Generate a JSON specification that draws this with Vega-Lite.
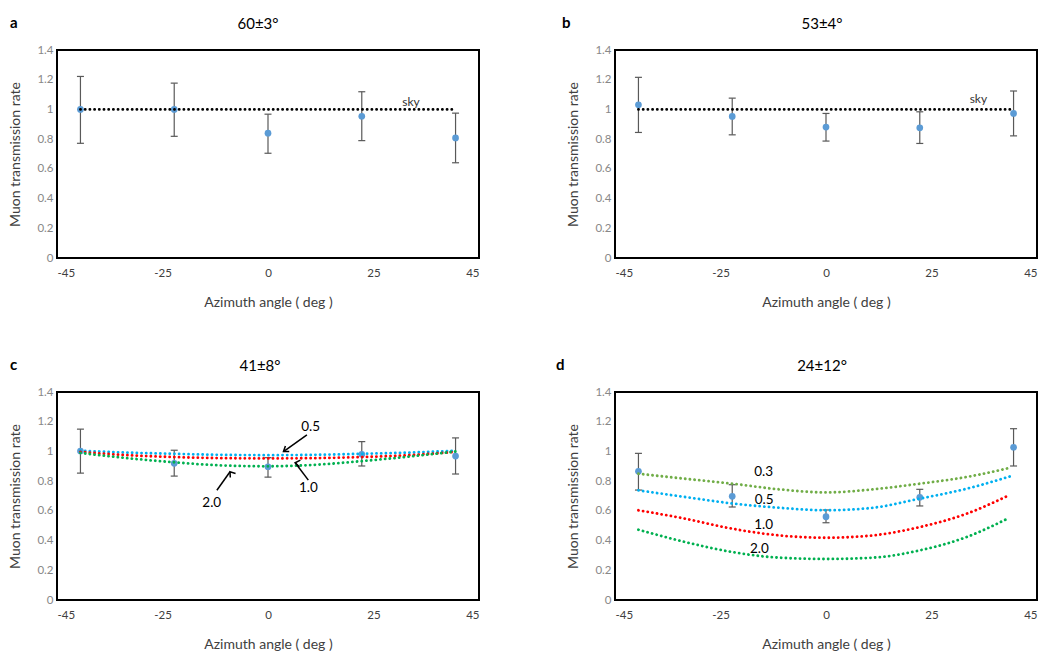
{
  "$schema": "https://vega.github.io/schema/vega-lite/v6.json",
  "background": "white",
  "padding": {"left": 7, "top": 16, "right": 0, "bottom": 0},
  "config": {
    "font": "Lato",
    "view": {"stroke": "#000000", "strokeWidth": 2},
    "axis": {"grid": false, "domain": false, "ticks": false, "labelFont": "Lato", "titleFont": "Lato", "titleFontWeight": "normal", "titleFontSize": 14, "titleColor": "#404040"},
    "axisX": {"labelFontSize": 11.5, "labelColor": "#404040", "labelPadding": 9, "titlePadding": 17},
    "axisY": {"labelFontSize": 11.5, "labelColor": "#888888", "labelPadding": 4, "titlePadding": 14},
    "title": {"font": "Lato", "color": "#000000"}
  },
  "datasets": {
    "ptsA": [
      {"x": -40, "y": 1.0, "lo": 0.772, "hi": 1.222},
      {"x": -20, "y": 1.0, "lo": 0.819, "hi": 1.177},
      {"x": 0, "y": 0.84, "lo": 0.705, "hi": 0.968},
      {"x": 20, "y": 0.954, "lo": 0.79, "hi": 1.119},
      {"x": 40, "y": 0.808, "lo": 0.641, "hi": 0.975}
    ],
    "ptsB": [
      {"x": -40, "y": 1.031, "lo": 0.845, "hi": 1.216},
      {"x": -20, "y": 0.953, "lo": 0.829, "hi": 1.076},
      {"x": 0, "y": 0.881, "lo": 0.787, "hi": 0.973},
      {"x": 20, "y": 0.876, "lo": 0.771, "hi": 0.984},
      {"x": 40, "y": 0.973, "lo": 0.822, "hi": 1.124}
    ],
    "ptsC": [
      {"x": -40, "y": 1.003, "lo": 0.854, "hi": 1.15},
      {"x": -20, "y": 0.92, "lo": 0.834, "hi": 1.008},
      {"x": 0, "y": 0.897, "lo": 0.827, "hi": 0.958},
      {"x": 20, "y": 0.981, "lo": 0.902, "hi": 1.066},
      {"x": 40, "y": 0.969, "lo": 0.848, "hi": 1.091}
    ],
    "ptsD": [
      {"x": -40, "y": 0.866, "lo": 0.74, "hi": 0.987},
      {"x": -20, "y": 0.698, "lo": 0.626, "hi": 0.776},
      {"x": 0, "y": 0.561, "lo": 0.52, "hi": 0.606},
      {"x": 20, "y": 0.691, "lo": 0.633, "hi": 0.745},
      {"x": 40, "y": 1.028, "lo": 0.902, "hi": 1.153}
    ],
    "sky": [
      {"x": -40, "y": 1.0},
      {"x": 40, "y": 1.0}
    ],
    "skyLabelA": [{"x": 30.5, "y": 1.047, "label": "sky"}],
    "skyLabelB": [{"x": 32.5, "y": 1.067, "label": "sky"}],
    "curvesC": [
      {"series": "0.5", "x": -40, "y": 1.005}, {"series": "0.5", "x": -30, "y": 0.992}, {"series": "0.5", "x": -20, "y": 0.984}, {"series": "0.5", "x": -10, "y": 0.977}, {"series": "0.5", "x": 0, "y": 0.975}, {"series": "0.5", "x": 10, "y": 0.977}, {"series": "0.5", "x": 20, "y": 0.984}, {"series": "0.5", "x": 30, "y": 0.992}, {"series": "0.5", "x": 40, "y": 1.005},
      {"series": "1.0", "x": -40, "y": 0.997}, {"series": "1.0", "x": -30, "y": 0.975}, {"series": "1.0", "x": -20, "y": 0.962}, {"series": "1.0", "x": -10, "y": 0.955}, {"series": "1.0", "x": 0, "y": 0.953}, {"series": "1.0", "x": 10, "y": 0.955}, {"series": "1.0", "x": 20, "y": 0.962}, {"series": "1.0", "x": 30, "y": 0.975}, {"series": "1.0", "x": 40, "y": 0.997},
      {"series": "2.0", "x": -40, "y": 0.99}, {"series": "2.0", "x": -30, "y": 0.955}, {"series": "2.0", "x": -20, "y": 0.927}, {"series": "2.0", "x": -10, "y": 0.906}, {"series": "2.0", "x": 0, "y": 0.9}, {"series": "2.0", "x": 10, "y": 0.91}, {"series": "2.0", "x": 20, "y": 0.935}, {"series": "2.0", "x": 30, "y": 0.965}, {"series": "2.0", "x": 40, "y": 1.0}
    ],
    "curvesD": [
      {"series": "0.3", "x": -40, "y": 0.85}, {"series": "0.3", "x": -30, "y": 0.816}, {"series": "0.3", "x": -20, "y": 0.783}, {"series": "0.3", "x": -10, "y": 0.745}, {"series": "0.3", "x": 0, "y": 0.724}, {"series": "0.3", "x": 10, "y": 0.745}, {"series": "0.3", "x": 20, "y": 0.783}, {"series": "0.3", "x": 30, "y": 0.828}, {"series": "0.3", "x": 39, "y": 0.888},
      {"series": "0.5", "x": -40, "y": 0.738}, {"series": "0.5", "x": -30, "y": 0.693}, {"series": "0.5", "x": -20, "y": 0.65}, {"series": "0.5", "x": -10, "y": 0.621}, {"series": "0.5", "x": 0, "y": 0.604}, {"series": "0.5", "x": 10, "y": 0.621}, {"series": "0.5", "x": 20, "y": 0.682}, {"series": "0.5", "x": 30, "y": 0.749}, {"series": "0.5", "x": 40, "y": 0.839},
      {"series": "1.0", "x": -40, "y": 0.604}, {"series": "1.0", "x": -30, "y": 0.547}, {"series": "1.0", "x": -20, "y": 0.48}, {"series": "1.0", "x": -10, "y": 0.435}, {"series": "1.0", "x": 0, "y": 0.419}, {"series": "1.0", "x": 10, "y": 0.435}, {"series": "1.0", "x": 20, "y": 0.491}, {"series": "1.0", "x": 30, "y": 0.581}, {"series": "1.0", "x": 39, "y": 0.705},
      {"series": "2.0", "x": -40, "y": 0.473}, {"series": "2.0", "x": -30, "y": 0.39}, {"series": "2.0", "x": -20, "y": 0.323}, {"series": "2.0", "x": -10, "y": 0.285}, {"series": "2.0", "x": 0, "y": 0.276}, {"series": "2.0", "x": 10, "y": 0.285}, {"series": "2.0", "x": 20, "y": 0.334}, {"series": "2.0", "x": 30, "y": 0.424}, {"series": "2.0", "x": 39, "y": 0.552}
    ],
    "labelsC": [
      {"label": "0.5", "x": 9.1, "y": 1.163},
      {"label": "1.0", "x": 8.6, "y": 0.757},
      {"label": "2.0", "x": -12.0, "y": 0.654}
    ],
    "arrowsC": [
      {"label": "0.5", "x": 3.3, "y": 0.999, "tx": 8.3, "ty": 1.111},
      {"label": "1.0", "x": 5.8, "y": 0.924, "tx": 8.6, "ty": 0.807},
      {"label": "2.0", "x": -8.1, "y": 0.863, "tx": -10.9, "ty": 0.739}
    ],
    "labelsD": [
      {"label": "0.3", "x": -13.3, "y": 0.862},
      {"label": "0.5", "x": -13.2, "y": 0.675},
      {"label": "1.0", "x": -13.3, "y": 0.505},
      {"label": "2.0", "x": -14.2, "y": 0.34}
    ]
  },
  "columns": 2,
  "spacing": {"column": 75, "row": 47},
  "concat": [
    {
      "title": {"text": "a", "anchor": "start", "fontSize": 15, "fontWeight": "bold", "offset": 0, "dy": 15, "dx": 2},
      "vconcat": [
        {
          "width": 422, "height": 208,
          "title": {"text": "60±3°", "fontSize": 15, "fontWeight": "normal", "anchor": "middle", "frame": "group", "offset": 12, "dx": -10},
          "encoding": {
            "x": {"field": "x", "type": "quantitative", "scale": {"domain": [-45, 45], "nice": false, "zero": false}, "axis": {"values": [-45, -22.5, 0, 22.5, 45], "labelExpr": "datum.value == -45 ? '-45' : datum.value == -22.5 ? '-25' : datum.value == 0 ? '0' : datum.value == 22.5 ? '25' : '45'", "title": "Azimuth angle ( deg )"}},
            "y": {"field": "y", "type": "quantitative", "scale": {"domain": [0, 1.4], "nice": false}, "axis": {"values": [0, 0.2, 0.4, 0.6, 0.8, 1, 1.2, 1.4], "format": "~g", "title": "Muon transmission rate"}}
          },
          "layer": [
            {"data": {"name": "ptsA"}, "mark": {"type": "rule", "color": "#595959", "strokeWidth": 1.2}, "encoding": {"y": {"field": "lo", "type": "quantitative", "title": "Muon transmission rate"}, "y2": {"field": "hi"}}},
            {"data": {"name": "ptsA"}, "mark": {"type": "tick", "orient": "horizontal", "color": "#595959", "size": 7, "thickness": 1.2, "opacity": 1}, "encoding": {"y": {"field": "lo", "type": "quantitative", "title": "Muon transmission rate"}}},
            {"data": {"name": "ptsA"}, "mark": {"type": "tick", "orient": "horizontal", "color": "#595959", "size": 7, "thickness": 1.2, "opacity": 1}, "encoding": {"y": {"field": "hi", "type": "quantitative", "title": "Muon transmission rate"}}},
            {"data": {"name": "ptsA"}, "mark": {"type": "circle", "color": "#5b9bd5", "size": 45, "opacity": 1}},
            {"data": {"name": "sky"}, "mark": {"type": "line", "color": "#000000", "strokeWidth": 2.8, "strokeDash": [0.1, 4.6], "strokeCap": "round"}},
            {"data": {"name": "skyLabelA"}, "mark": {"type": "text", "fontSize": 12, "color": "#333333", "baseline": "middle"}, "encoding": {"text": {"field": "label"}}}
          ]
        }
      ]
    },
    {
      "title": {"text": "b", "anchor": "start", "fontSize": 15, "fontWeight": "bold", "offset": 0, "dy": 15, "dx": -4},
      "vconcat": [
        {
          "width": 422, "height": 208,
          "title": {"text": "53±4°", "fontSize": 15, "fontWeight": "normal", "anchor": "middle", "frame": "group", "offset": 12, "dx": -4},
          "encoding": {
            "x": {"field": "x", "type": "quantitative", "scale": {"domain": [-45, 45], "nice": false, "zero": false}, "axis": {"values": [-45, -22.5, 0, 22.5, 45], "labelExpr": "datum.value == -45 ? '-45' : datum.value == -22.5 ? '-25' : datum.value == 0 ? '0' : datum.value == 22.5 ? '25' : '45'", "title": "Azimuth angle ( deg )"}},
            "y": {"field": "y", "type": "quantitative", "scale": {"domain": [0, 1.4], "nice": false}, "axis": {"values": [0, 0.2, 0.4, 0.6, 0.8, 1, 1.2, 1.4], "format": "~g", "title": "Muon transmission rate"}}
          },
          "layer": [
            {"data": {"name": "ptsB"}, "mark": {"type": "rule", "color": "#595959", "strokeWidth": 1.2}, "encoding": {"y": {"field": "lo", "type": "quantitative", "title": "Muon transmission rate"}, "y2": {"field": "hi"}}},
            {"data": {"name": "ptsB"}, "mark": {"type": "tick", "orient": "horizontal", "color": "#595959", "size": 7, "thickness": 1.2, "opacity": 1}, "encoding": {"y": {"field": "lo", "type": "quantitative", "title": "Muon transmission rate"}}},
            {"data": {"name": "ptsB"}, "mark": {"type": "tick", "orient": "horizontal", "color": "#595959", "size": 7, "thickness": 1.2, "opacity": 1}, "encoding": {"y": {"field": "hi", "type": "quantitative", "title": "Muon transmission rate"}}},
            {"data": {"name": "ptsB"}, "mark": {"type": "circle", "color": "#5b9bd5", "size": 45, "opacity": 1}},
            {"data": {"name": "sky"}, "mark": {"type": "line", "color": "#000000", "strokeWidth": 2.8, "strokeDash": [0.1, 4.6], "strokeCap": "round"}},
            {"data": {"name": "skyLabelB"}, "mark": {"type": "text", "fontSize": 12, "color": "#333333", "baseline": "middle"}, "encoding": {"text": {"field": "label"}}}
          ]
        }
      ]
    },
    {
      "title": {"text": "c", "anchor": "start", "fontSize": 15, "fontWeight": "bold", "offset": 0, "dy": 15, "dx": 2},
      "vconcat": [
        {
          "width": 422, "height": 208,
          "title": {"text": "41±8°", "fontSize": 15, "fontWeight": "normal", "anchor": "middle", "frame": "group", "offset": 12, "dx": -8},
          "encoding": {
            "x": {"field": "x", "type": "quantitative", "scale": {"domain": [-45, 45], "nice": false, "zero": false}, "axis": {"values": [-45, -22.5, 0, 22.5, 45], "labelExpr": "datum.value == -45 ? '-45' : datum.value == -22.5 ? '-25' : datum.value == 0 ? '0' : datum.value == 22.5 ? '25' : '45'", "title": "Azimuth angle ( deg )"}},
            "y": {"field": "y", "type": "quantitative", "scale": {"domain": [0, 1.4], "nice": false}, "axis": {"values": [0, 0.2, 0.4, 0.6, 0.8, 1, 1.2, 1.4], "format": "~g", "title": "Muon transmission rate"}}
          },
          "layer": [
            {"data": {"name": "ptsC"}, "mark": {"type": "rule", "color": "#595959", "strokeWidth": 1.2}, "encoding": {"y": {"field": "lo", "type": "quantitative", "title": "Muon transmission rate"}, "y2": {"field": "hi"}}},
            {"data": {"name": "ptsC"}, "mark": {"type": "tick", "orient": "horizontal", "color": "#595959", "size": 7, "thickness": 1.2, "opacity": 1}, "encoding": {"y": {"field": "lo", "type": "quantitative", "title": "Muon transmission rate"}}},
            {"data": {"name": "ptsC"}, "mark": {"type": "tick", "orient": "horizontal", "color": "#595959", "size": 7, "thickness": 1.2, "opacity": 1}, "encoding": {"y": {"field": "hi", "type": "quantitative", "title": "Muon transmission rate"}}},
            {"data": {"name": "ptsC"}, "mark": {"type": "circle", "color": "#5b9bd5", "size": 45, "opacity": 1}},
            {"data": {"name": "curvesC"}, "mark": {"type": "line", "interpolate": "monotone", "strokeWidth": 2.8, "strokeDash": [0.1, 4.6], "strokeCap": "round"}, "encoding": {"color": {"field": "series", "type": "nominal", "scale": {"domain": ["0.3", "0.5", "1.0", "2.0"], "range": ["#70ad47", "#00b0f0", "#ff0000", "#00b050"]}, "legend": null}}},
            {"data": {"name": "labelsC"}, "mark": {"type": "text", "fontSize": 13.5, "color": "#000000", "baseline": "middle"}, "encoding": {"text": {"field": "label"}}},
            {"data": {"name": "arrowsC"}, "mark": {"type": "rule", "color": "#000000", "strokeWidth": 1.5}, "encoding": {"x2": {"field": "tx"}, "y2": {"field": "ty"}}},
            {"data": {"name": "arrowsC"}, "mark": {"type": "point", "shape": "M -0.7 1 L 0 0 L 0.7 1", "filled": false, "stroke": "#000000", "strokeWidth": 1.5, "size": 90, "opacity": 1}, "encoding": {"angle": {"field": "label", "type": "nominal", "scale": {"domain": ["0.5", "1.0", "2.0"], "range": [234.5, 322.4, 36]}, "legend": null}}}
          ]
        }
      ]
    },
    {
      "title": {"text": "d", "anchor": "start", "fontSize": 15, "fontWeight": "bold", "offset": 0, "dy": 15, "dx": -10},
      "vconcat": [
        {
          "width": 422, "height": 208,
          "title": {"text": "24±12°", "fontSize": 15, "fontWeight": "normal", "anchor": "middle", "frame": "group", "offset": 12, "dx": -4},
          "encoding": {
            "x": {"field": "x", "type": "quantitative", "scale": {"domain": [-45, 45], "nice": false, "zero": false}, "axis": {"values": [-45, -22.5, 0, 22.5, 45], "labelExpr": "datum.value == -45 ? '-45' : datum.value == -22.5 ? '-25' : datum.value == 0 ? '0' : datum.value == 22.5 ? '25' : '45'", "title": "Azimuth angle ( deg )"}},
            "y": {"field": "y", "type": "quantitative", "scale": {"domain": [0, 1.4], "nice": false}, "axis": {"values": [0, 0.2, 0.4, 0.6, 0.8, 1, 1.2, 1.4], "format": "~g", "title": "Muon transmission rate"}}
          },
          "layer": [
            {"data": {"name": "ptsD"}, "mark": {"type": "rule", "color": "#595959", "strokeWidth": 1.2}, "encoding": {"y": {"field": "lo", "type": "quantitative", "title": "Muon transmission rate"}, "y2": {"field": "hi"}}},
            {"data": {"name": "ptsD"}, "mark": {"type": "tick", "orient": "horizontal", "color": "#595959", "size": 7, "thickness": 1.2, "opacity": 1}, "encoding": {"y": {"field": "lo", "type": "quantitative", "title": "Muon transmission rate"}}},
            {"data": {"name": "ptsD"}, "mark": {"type": "tick", "orient": "horizontal", "color": "#595959", "size": 7, "thickness": 1.2, "opacity": 1}, "encoding": {"y": {"field": "hi", "type": "quantitative", "title": "Muon transmission rate"}}},
            {"data": {"name": "ptsD"}, "mark": {"type": "circle", "color": "#5b9bd5", "size": 45, "opacity": 1}},
            {"data": {"name": "curvesD"}, "mark": {"type": "line", "interpolate": "monotone", "strokeWidth": 2.8, "strokeDash": [0.1, 4.6], "strokeCap": "round"}, "encoding": {"color": {"field": "series", "type": "nominal", "scale": {"domain": ["0.3", "0.5", "1.0", "2.0"], "range": ["#70ad47", "#00b0f0", "#ff0000", "#00b050"]}, "legend": null}}},
            {"data": {"name": "labelsD"}, "mark": {"type": "text", "fontSize": 13.5, "color": "#000000", "baseline": "middle"}, "encoding": {"text": {"field": "label"}}}
          ]
        }
      ]
    }
  ]
}
